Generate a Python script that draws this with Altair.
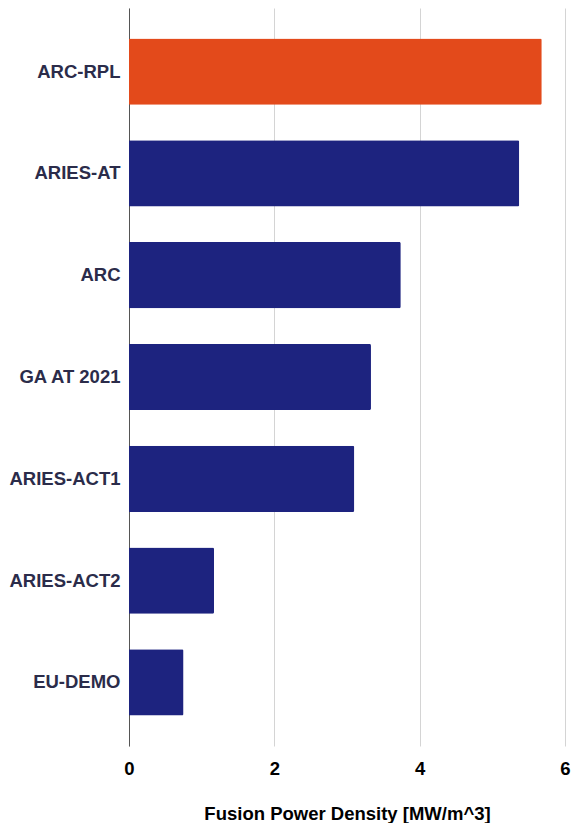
import altair as alt
import pandas as pd

projects = ["ARC-RPL", "ARIES-AT", "ARC", "GA AT 2021", "ARIES-ACT1", "ARIES-ACT2", "EU-DEMO"]
power_density = [5.68, 5.37, 3.74, 3.33, 3.10, 1.17, 0.75]
group = ["ARC-RPL", "other", "other", "other", "other", "other", "other"]
x_ticks = [0, 2, 4, 6]

df = pd.DataFrame({"project": projects, "density": power_density, "group": group})

FONT = "Liberation Sans"

chart = (
    alt.Chart(df)
    .mark_bar(cornerRadiusTopRight=1.5, cornerRadiusBottomRight=1.5)
    .encode(
        y=alt.Y(
            "project:N",
            sort=projects,
            scale=alt.Scale(paddingInner=0.35, paddingOuter=0.3),
            axis=alt.Axis(
                title=None,
                labelFontSize=18.5,
                labelFontWeight="bold",
                labelColor="#2b2c4a",
                labelFont=FONT,
                labelPadding=9,
                ticks=False,
                domainColor="#555555",
                domainWidth=1,
                grid=False,
            ),
        ),
        x=alt.X(
            "density:Q",
            scale=alt.Scale(domain=[0, 6], nice=False),
            axis=alt.Axis(
                values=x_ticks,
                title="Fusion Power Density [MW/m^3]",
                titleFont=FONT,
                titleFontSize=18.5,
                titleFontWeight="bold",
                titleColor="#000000",
                titlePadding=27,
                labelFont=FONT,
                labelFontSize=18.5,
                labelFontWeight="bold",
                labelColor="#000000",
                labelPadding=13,
                labelFlush=False,
                ticks=False,
                domain=False,
                grid=True,
                gridColor="#d4d4d4",
                gridWidth=1,
            ),
        ),
        color=alt.Color(
            "group:N",
            scale=alt.Scale(domain=["ARC-RPL", "other"], range=["#E34A1B", "#1D237F"]),
            legend=None,
        ),
    )
    .properties(
        width=563,
        height=815,
        padding=0,
        autosize=alt.AutoSizeParams(type="fit", contains="padding"),
    )
    .configure_view(stroke=None)
)

chart.save("out.html", embed_options={"renderer": "svg", "actions": False})
